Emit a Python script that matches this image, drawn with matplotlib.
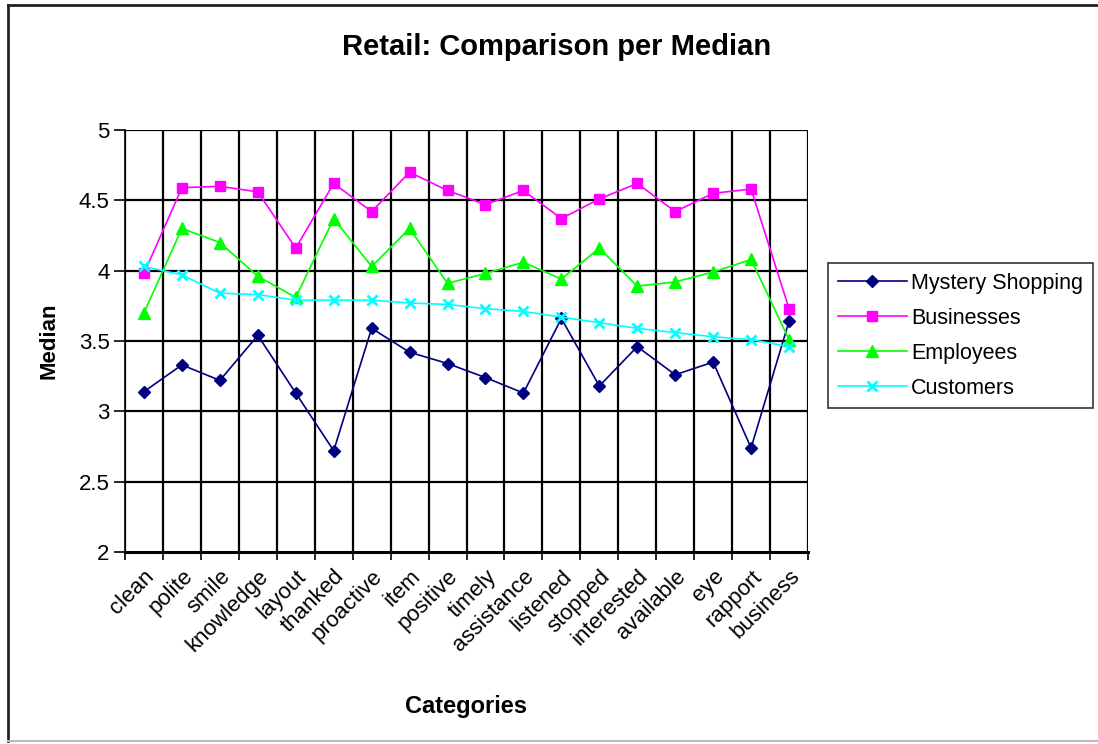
import matplotlib
matplotlib.use('Agg')
import matplotlib.pyplot as plt
from matplotlib.lines import Line2D

plt.rcParams['font.family'] = ['Liberation Sans', 'DejaVu Sans']

categories = ['clean', 'polite', 'smile', 'knowledge', 'layout', 'thanked', 'proactive',
              'item', 'positive', 'timely', 'assistance', 'listened', 'stopped',
              'interested', 'available', 'eye', 'rapport', 'business']

mystery = [3.14, 3.33, 3.22, 3.54, 3.13, 2.72, 3.59, 3.42, 3.34, 3.24, 3.13, 3.66,
           3.18, 3.46, 3.26, 3.35, 2.74, 3.64]
businesses = [3.98, 4.59, 4.60, 4.56, 4.16, 4.62, 4.42, 4.70, 4.57, 4.47, 4.57, 4.37,
              4.51, 4.62, 4.42, 4.55, 4.58, 3.73]
employees = [3.70, 4.30, 4.20, 3.96, 3.81, 4.37, 4.03, 4.30, 3.91, 3.98, 4.06, 3.94,
             4.16, 3.89, 3.92, 3.99, 4.08, 3.51]
customers = [4.03, 3.97, 3.84, 3.83, 3.79, 3.79, 3.79, 3.77, 3.76, 3.73, 3.71, 3.67,
             3.63, 3.59, 3.56, 3.53, 3.51, 3.46]

fig = plt.figure(figsize=(10.98, 7.44), dpi=100)
ax = fig.add_axes([125 / 1098, 1 - 552 / 744, (808 - 125) / 1098, (552 - 130) / 744])

x = list(range(len(categories)))
ax.plot(x, mystery, color='#000080', marker='D', markersize=6, lw=1.2, label='Mystery Shopping', zorder=5)
ax.plot(x, businesses, color='#FF00FF', marker='s', markersize=7, lw=1.2, label='Businesses', zorder=5)
ax.plot(x, employees, color='#00FF00', marker='^', markersize=8, lw=1.2, label='Employees', zorder=5)
ax.plot(x, customers, color='#00FFFF', marker='x', markersize=7, mew=2, lw=1.2, label='Customers', zorder=5)

ax.set_xlim(-0.5, len(categories) - 0.5)
ax.set_ylim(2, 5)
ax.set_yticks([2, 2.5, 3, 3.5, 4, 4.5, 5])
ax.set_yticklabels(['2', '2.5', '3', '3.5', '4', '4.5', '5'], fontsize=16)

# grid on category boundaries
bounds = [i - 0.5 for i in range(len(categories) + 1)]
for b in bounds:
    ax.axvline(b, color='black', lw=1.6, zorder=1)
for yv in [2.5, 3, 3.5, 4, 4.5, 5]:
    ax.axhline(yv, color='black', lw=1.6, zorder=1)

ax.set_xticks(bounds)
ax.set_xticklabels([])
ax.set_xticks(x, minor=True)
ax.set_xticklabels(categories, minor=True, rotation=45, ha='right', rotation_mode='anchor', fontsize=16)
ax.tick_params(axis='x', which='minor', length=0, pad=10)
ax.tick_params(axis='x', which='major', direction='out', length=6, width=1.2)
ax.tick_params(axis='y', direction='out', length=8, width=1.2, pad=3)

for s in ['top', 'right']:
    ax.spines[s].set_visible(False)
ax.spines['bottom'].set_linewidth(2.2)
ax.spines['left'].set_linewidth(1.2)

ax.set_ylabel('Median', fontsize=16, fontweight='bold', labelpad=14)
ax.set_xlabel('Categories', fontsize=17, fontweight='bold', labelpad=28)
fig.text(557 / 1098, 1 - 47 / 744, 'Retail: Comparison per Median', fontsize=21,
         fontweight='bold', ha='center', va='center')

leg = fig.legend(loc='upper left', bbox_to_anchor=(828 / 1098, 1 - 263 / 744),
                 fontsize=15.5, frameon=True, fancybox=False, edgecolor='black',
                 handlelength=3.2, borderpad=0.45, labelspacing=0.65, handletextpad=0.2,
                 borderaxespad=0)
leg.get_frame().set_linewidth(1.2)

# chart border (top and left dark, bottom light)
fig.add_artist(Line2D([8 / 1098, 8 / 1098], [0.004, 1 - 5 / 744], transform=fig.transFigure,
                      color='#222222', lw=2))
fig.add_artist(Line2D([8 / 1098, 1.0], [1 - 5 / 744, 1 - 5 / 744], transform=fig.transFigure,
                      color='#222222', lw=2))
fig.add_artist(Line2D([8 / 1098, 1.0], [0.004, 0.004], transform=fig.transFigure,
                      color='#bbbbbb', lw=1.5))

fig.savefig('out.png', dpi=100)
